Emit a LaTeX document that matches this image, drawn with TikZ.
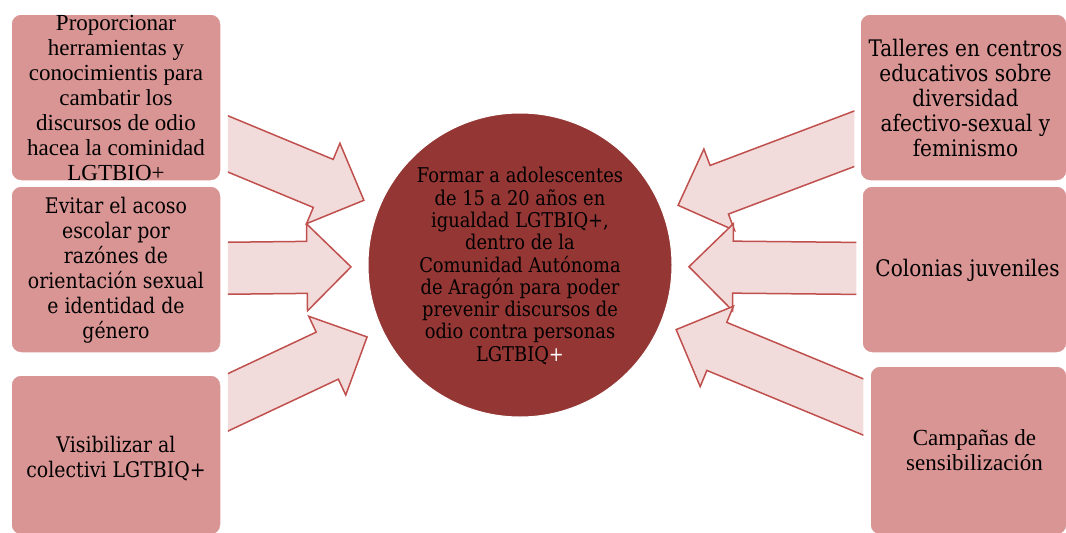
\documentclass[tikz,border=0pt]{standalone}
\usepackage{fontspec}
\setmainfont{Liberation Serif}
\newfontfamily\cambria[FakeStretch=0.88]{DejaVu Serif}
\usetikzlibrary{calc}

\definecolor{boxfill}{HTML}{D99594}
\definecolor{arrowfill}{HTML}{F2DCDB}
\definecolor{arrowline}{HTML}{C0504D}
\definecolor{metafill}{HTML}{943634}

% block arrow from a box towards the circle, cut #3 pt off the box side #2
\newcommand{\bigarrow}[3]{%
  \begin{scope}
    \clip ($(#1.#2)+(#3,-300)$) rectangle ($(#1.#2)+(60*#3,300)$);
    \coordinate (tip) at ($(meta)!169pt!(#1)$);
    \coordinate (hb) at ($(tip)!44pt!(#1)$);
    \filldraw[bigarrow] ($(#1)!26pt!90:(tip)$) -- ($(hb)!26pt!90:(tip)$)
      -- ($(hb)!43.5pt!90:(tip)$) -- (tip) -- ($(hb)!43.5pt!-90:(tip)$)
      -- ($(hb)!26pt!-90:(tip)$) -- ($(#1)!26pt!-90:(tip)$) -- cycle;
  \end{scope}}

\begin{document}
\begin{tikzpicture}[x=1pt,y=-1pt,
    box/.style={rectangle, rounded corners=10, fill=boxfill, draw=white, line width=1.5, inner sep=0},
    timestext/.style={align=center, inner sep=0, font=\fontsize{23}{25}\selectfont},
    cambriatext/.style={align=center, inner sep=0, font=\cambria\fontsize{21.5}{25}\selectfont},
    bigarrow/.style={fill=arrowfill, draw=arrowline, line width=1.5, line join=miter}]
  \useasboundingbox (0,0) rectangle (1066,533);

  \node[box, minimum width=210, minimum height=167] (obj1) at (116,97.5) {};
  \node[box, minimum width=210, minimum height=167] (obj2) at (116,269.5) {};
  \node[box, minimum width=210, minimum height=160] (obj3) at (116,455) {};
  \node[box, minimum width=207, minimum height=167] (act1) at (963.5,97.5) {};
  \node[box, minimum width=205, minimum height=167] (act2) at (964.5,269.5) {};
  \node[box, minimum width=197, minimum height=169] (act3) at (968.5,450.5) {};
  \node[circle, fill=metafill, draw=white, line width=1, minimum size=304, inner sep=0] (meta) at (520,265) {};

  \node[timestext] (obj1text) at (obj1) {Proporcionar\\herramientas y\\conocimientis para\\cambatir los\\discursos de odio\\hacea la cominidad\\LGTBIO+};
  \node[cambriatext] (obj2text) at ($(obj2)+(0,1)$) {Evitar el acoso\\escolar por\\razónes de\\orientación sexual\\e identidad de\\género};
  \node[cambriatext] (obj3text) at ($(obj3)+(0,4)$) {Visibilizar al\\colectivi LGTBIQ+};
  \node[cambriatext, font=\cambria\fontsize{20.3}{22.3}\selectfont] (metatext) at ($(meta)+(0,1)$) {Formar a adolescentes\\de 15 a 20 años en\\igualdad LGTBIQ+,\\dentro de la\\Comunidad Autónoma\\de Aragón para poder\\prevenir discursos de\\odio contra personas\\LGTBIQ\textcolor{white}{+}};
  \node[cambriatext, font=\cambria\fontsize{22.8}{25}\selectfont] (act1text) at ($(act1)+(2,0)$) {Talleres en centros\\educativos sobre\\diversidad\\afectivo-sexual y\\feminismo};
  \node[cambriatext, font=\cambria\fontsize{22.8}{25}\selectfont] (act2text) at ($(act2)+(3,1)$) {Colonias juveniles};
  \node[timestext] (act3text) at ($(act3)+(6,0)$) {Campañas de\\sensibilización};

  \bigarrow{obj1}{east}{6}
  \bigarrow{obj2}{east}{6}
  \bigarrow{obj3}{east}{6}
  \bigarrow{act1}{west}{-5}
  \bigarrow{act2}{west}{-5}
  \bigarrow{act3}{west}{-6}
\end{tikzpicture}
\end{document}
